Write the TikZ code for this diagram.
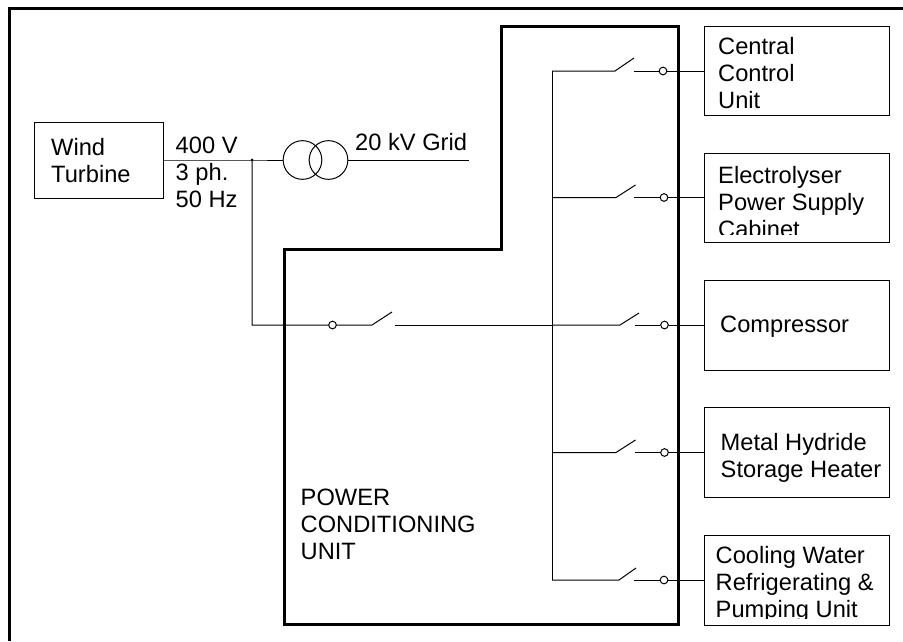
\documentclass[tikz,border=0pt]{standalone}
\usepackage{fontspec}
\setmainfont{Liberation Sans}
\usepackage{tikz}
\usetikzlibrary{positioning}

\begin{document}
\begin{tikzpicture}[
  x=0.03cm, y=-0.03cm,
  frameline/.style={line width=0.075cm},
  pculine/.style={line width=0.09cm, line join=miter},
  wire/.style={line width=0.03cm},
  unitbox/.style={draw, line width=0.03cm, minimum width=5.55cm, minimum height=2.68cm, inner sep=0pt},
  lbl/.style={anchor=base west, inner sep=0pt, align=left, font=\fontsize{20.2}{23}\selectfont},
  contact/.style={draw, circle, line width=0.03cm, fill=white, minimum size=0.23cm, inner sep=0pt},
  coil/.style={draw, circle, line width=0.03cm, minimum size=1.16cm, inner sep=0pt}
]
  \useasboundingbox (0,0) rectangle (903,641);

  % Outer frame (open on the right and at the bottom)
  \coordinate (framea) at (9.5,641);
  \coordinate (frameb) at (9.5,8.5);
  \coordinate (framec) at (903,8.5);
  \draw[frameline] (framea) -- (frameb) -- (framec);

  % Power conditioning unit outline
  \coordinate (pcua) at (284,249);
  \coordinate (pcub) at (501,249);
  \coordinate (pcuc) at (501,26);
  \coordinate (pcud) at (678.5,26);
  \coordinate (pcue) at (678.5,624.5);
  \coordinate (pcuf) at (284,624.5);
  \draw[pculine] (pcua) -- (pcub) -- (pcuc) -- (pcud) -- (pcue) -- (pcuf) -- cycle;
  \node[lbl] (pcu) at (300.5,559.5) {POWER\\CONDITIONING\\UNIT};

  % Boxes
  \node[draw, line width=0.03cm, minimum width=3.84cm, minimum height=2.28cm, inner sep=0pt]
    (turbine) at (99,160) {};
  \node[unitbox] (central) at (797,71) {};
  \node[unitbox] (electro) at (797,198) {};
  \node[unitbox] (compr)   at (797,325.5) {};
  \node[unitbox] (hydride) at (797,452.5) {};
  \node[unitbox] (cooling) at (797,580.5) {};

  % Box texts
  \node[lbl] (turbinetxt) at (51,182) {Wind\\Turbine};
  \node[lbl] (centraltxt) at (718,108) {Central\\Control\\Unit};
  \node[lbl] (comprtxt)   at (720,332) {Compressor};
  \node[lbl] (hydridetxt) at (720.5,477) {Metal Hydride\\Storage Heater};
  \begin{scope}
    \clip (705,154) rectangle (889,234.5);
    \node[lbl] (electrotxt) at (718,237) {Electrolyser\\Power Supply\\Cabinet};
  \end{scope}
  \begin{scope}
    \clip (705,536) rectangle (889,618.5);
    \node[lbl] (coolingtxt) at (715.5,617) {Cooling Water\\Refrigerating \&\\Pumping Unit};
  \end{scope}

  % Supply side
  \node[lbl] (supply) at (175.5,207) {400 V\\3 ph.\\50 Hz};
  \node[lbl] (grid) at (355,150.5) {20 kV Grid};
  \node[coil] (coila) at (302.5,160) {};
  \node[coil] (coilb) at (328.5,160) {};
  \coordinate (gridend) at (468.5,160);
  \coordinate (tee) at (252,160);
  \coordinate (teedown) at (252,325);
  \draw[wire] (turbine.east |- tee) -- (tee) -- (coila.west);
  \draw[wire] (coilb.east) -- (gridend);
  \fill (tee) circle (0.045cm);

  % Main switch
  \node[contact] (maincon) at (332.5,325) {};
  \coordinate (mainsa) at (372,325);
  \coordinate (mainsb) at (392,312);
  \coordinate (mainsc) at (395,325);
  \draw[wire] (tee) -- (teedown) -- (maincon) -- (mainsa) -- (mainsb);

  % Bus bar
  \coordinate (bustop) at (552,71);
  \coordinate (busmid) at (552,325);
  \coordinate (busb) at (552,197.5);
  \coordinate (busd) at (552,452.5);
  \coordinate (busbot) at (552,580);
  \draw[wire] (bustop) -- (busbot);
  \draw[wire] (mainsc) -- (busmid);

  % Branch to central control unit
  \node[contact] (cona) at (663,71) {};
  \coordinate (swa) at (615,71);
  \coordinate (bla) at (634,58);
  \coordinate (ona) at (634,71);
  \draw[wire] (bustop) -- (swa) -- (bla);
  \draw[wire] (ona) -- (cona) -- (central.west |- cona);

  % Branch to electrolyser
  \node[contact] (conb) at (664,197.5) {};
  \coordinate (swb) at (616,197.5);
  \coordinate (blb) at (635.5,185);
  \coordinate (onb) at (634,197.5);
  \draw[wire] (busb) -- (swb) -- (blb);
  \draw[wire] (onb) -- (conb) -- (electro.west |- conb);

  % Branch to compressor
  \node[contact] (conc) at (664.5,325) {};
  \coordinate (swc) at (620,325);
  \coordinate (blc) at (639,313);
  \coordinate (onc) at (635,325);
  \draw[wire] (busmid) -- (swc) -- (blc);
  \draw[wire] (onc) -- (conc) -- (compr.west |- conc);

  % Branch to hydride heater
  \node[contact] (cond) at (664.5,452.5) {};
  \coordinate (swd) at (616,452.5);
  \coordinate (bld) at (635.5,440);
  \coordinate (ond) at (635,452.5);
  \draw[wire] (busd) -- (swd) -- (bld);
  \draw[wire] (ond) -- (cond) -- (hydride.west |- cond);

  % Branch to cooling water unit
  \node[contact] (cone) at (664,580) {};
  \coordinate (swe) at (619,580);
  \coordinate (ble) at (636,568);
  \coordinate (one) at (634,580);
  \draw[wire] (busbot) -- (swe) -- (ble);
  \draw[wire] (one) -- (cone) -- (cooling.west |- cone);
\end{tikzpicture}
\end{document}
